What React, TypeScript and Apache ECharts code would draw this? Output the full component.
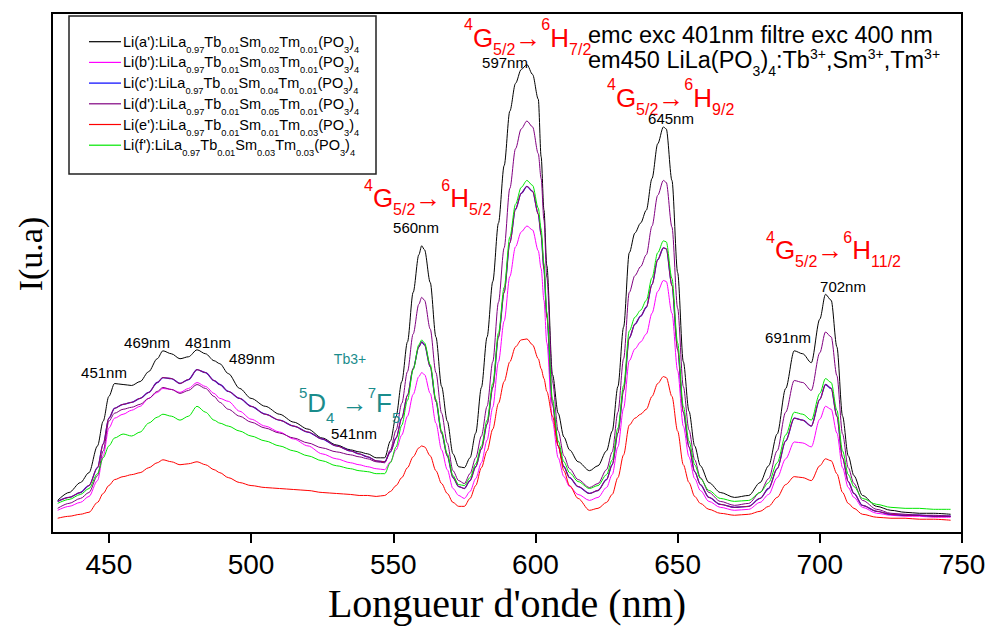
import { useEffect, useRef } from 'react';
import * as echarts from 'echarts';

// ---------- DATA ----------
const wavelengths = [
  432, 436, 440, 443, 446, 448, 450, 452, 455, 458, 461, 464, 467, 469, 472, 475, 478, 481, 484, 487, 489, 492, 496, 500, 505, 510, 515, 520, 525, 530, 535, 538, 541, 544, 547,
  549, 551, 553, 555, 557, 559, 560, 561, 563, 565, 567, 569, 571, 573,
  575, 577, 579, 581, 583, 585, 587, 589, 591, 593, 595, 597, 599, 601, 602, 603, 604, 606, 608, 610, 612, 615, 619,
  622, 625, 627, 629, 631, 633, 635, 637, 639, 641, 643, 645, 646, 648, 650, 652, 654, 656, 658, 661, 665, 670,
  675, 679, 682, 685, 688, 691, 694, 697, 700, 702, 704, 706, 708, 710, 712, 715, 720, 725, 730, 735, 740, 746,
];

const serieA = [
  33, 41, 51, 61, 88, 113, 138, 151, 150, 149, 153, 163, 176, 184, 181, 176, 178, 185, 181, 174, 171, 161, 146, 136, 128, 120, 112, 105, 96, 89, 84, 82, 80, 76, 76,
  93, 118, 153, 193, 243, 281, 290, 286, 253, 198, 148, 113, 80, 67,
  66, 76, 101, 147, 198, 254, 313, 371, 426, 454, 468, 473, 463, 438, 380, 326, 270, 160, 121, 97, 84, 72, 63,
  68, 83, 103, 148, 208, 283, 303, 313, 326, 358, 393, 410, 408, 356, 263, 173, 123, 88, 68, 51, 41, 36,
  38, 51, 68, 100, 146, 184, 181, 172, 216, 241, 235, 188, 118, 78, 58, 38, 27, 23, 21, 20, 20, 19,
];

const serieB = [
  23, 27, 31, 37, 53, 78, 106, 116, 120, 124, 128, 136, 142, 146, 145, 142, 146, 152, 148, 141, 136, 133, 123, 115, 108, 102, 95, 88, 80, 75, 71, 69, 67, 65, 64,
  72, 84, 99, 118, 140, 158, 162, 160, 141, 111, 84, 64, 45, 38,
  35, 42, 55, 71, 94, 127, 173, 214, 259, 289, 304, 310, 306, 285, 267, 235, 192, 113, 76, 57, 47, 39, 33,
  36, 46, 59, 87, 126, 174, 186, 193, 201, 222, 244, 255, 254, 222, 164, 108, 77, 55, 43, 32, 26, 23,
  24, 31, 39, 56, 75, 92, 91, 87, 115, 128, 125, 101, 66, 46, 36, 26, 20, 18, 17, 17, 16, 16,
];

const serieC = [
  32, 36, 41, 48, 66, 90, 116, 126, 130, 132, 136, 142, 152, 157, 156, 151, 155, 165, 162, 154, 150, 143, 136, 128, 120, 114, 108, 102, 95, 88, 83, 80, 77, 73, 72,
  82, 96, 116, 139, 166, 188, 193, 190, 168, 133, 101, 78, 56, 47,
  45, 53, 67, 85, 110, 147, 198, 243, 293, 327, 343, 350, 345, 322, 301, 266, 218, 130, 88, 67, 56, 47, 40,
  43, 54, 69, 101, 144, 197, 211, 219, 228, 251, 276, 288, 287, 250, 185, 122, 87, 62, 49, 36, 29, 26,
  27, 35, 45, 65, 93, 116, 114, 108, 135, 150, 146, 118, 76, 52, 40, 28, 22, 19, 18, 18, 17, 17,
];

const serieD = [
  25, 30, 35, 41, 58, 83, 113, 121, 125, 127, 130, 136, 143, 147, 145, 141, 144, 150, 146, 138, 132, 125, 118, 112, 106, 101, 96, 91, 86, 82, 79, 77, 75, 72, 71,
  84, 104, 131, 163, 201, 231, 238, 235, 206, 162, 121, 91, 63, 53,
  50, 60, 76, 98, 128, 173, 233, 288, 348, 388, 408, 416, 410, 383, 358, 316, 258, 153, 103, 78, 65, 54, 46,
  50, 64, 82, 122, 176, 243, 260, 269, 281, 310, 341, 356, 354, 309, 227, 148, 104, 74, 56, 41, 32, 28,
  30, 41, 55, 83, 122, 154, 152, 144, 182, 203, 198, 159, 100, 66, 50, 33, 24, 20, 19, 18, 18, 17,
];

const serieE = [
  15, 17, 19, 21, 31, 40, 48, 54, 57, 59, 61, 66, 71, 74, 72, 69, 70, 72, 69, 64, 61, 56, 51, 48, 46, 45, 44, 43, 41, 40, 39, 38, 38, 37, 38,
  42, 48, 56, 66, 77, 86, 88, 87, 78, 63, 50, 40, 31, 27,
  27, 35, 48, 66, 83, 105, 131, 153, 173, 188, 195, 196, 190, 176, 166, 156, 143, 118, 88, 63, 48, 35, 23,
  25, 31, 39, 56, 79, 109, 116, 120, 125, 138, 151, 158, 157, 138, 103, 69, 51, 37, 30, 24, 20, 18,
  19, 22, 27, 36, 49, 57, 56, 53, 68, 75, 73, 60, 41, 30, 25, 19, 16, 15, 15, 14, 14, 13,
];

const serieF = [
  30, 34, 39, 45, 60, 76, 88, 96, 100, 98, 102, 111, 117, 120, 118, 114, 118, 128, 122, 114, 111, 108, 103, 98, 93, 88, 83, 78, 73, 68, 65, 63, 62, 60, 60,
  71, 87, 109, 134, 165, 190, 195, 192, 170, 135, 103, 80, 58, 49,
  48, 56, 70, 88, 114, 151, 202, 248, 299, 332, 349, 356, 351, 328, 307, 272, 223, 135, 93, 72, 61, 52, 45,
  48, 59, 74, 106, 149, 204, 218, 225, 235, 258, 283, 295, 294, 257, 192, 128, 93, 69, 55, 43, 35, 32,
  33, 41, 51, 71, 99, 122, 120, 114, 141, 156, 152, 124, 83, 59, 47, 35, 29, 26, 25, 25, 24, 24,
];

const seriesNames = ["Li(a')", "Li(b')", "Li(c')", "Li(d')", "Li(e')", "Li(f')"];
const seriesColors = ['#000000', '#ff00ff', '#0000ff', '#800080', '#ff0000', '#00e600'];
const seriesValues = [serieA, serieB, serieC, serieD, serieE, serieF];

const legendLabels = [
  "Li(a'):LiLa_{0.97}Tb_{0.01}Sm_{0.02}Tm_{0.01}(PO_{3})_{4}",
  "Li(b'):LiLa_{0.97}Tb_{0.01}Sm_{0.03}Tm_{0.01}(PO_{3})_{4}",
  "Li(c'):LiLa_{0.97}Tb_{0.01}Sm_{0.04}Tm_{0.01}(PO_{3})_{4}",
  "Li(d'):LiLa_{0.97}Tb_{0.01}Sm_{0.05}Tm_{0.01}(PO_{3})_{4}",
  "Li(e'):LiLa_{0.97}Tb_{0.01}Sm_{0.01}Tm_{0.03}(PO_{3})_{4}",
  "Li(f'):LiLa_{0.97}Tb_{0.01}Sm_{0.03}Tm_{0.03}(PO_{3})_{4}",
];

const xTicks = [450, 500, 550, 600, 650, 700, 750];

const peakLabels = [
  { t: '451nm', x: 104, y: 372 },
  { t: '469nm', x: 147, y: 342 },
  { t: '481nm', x: 208, y: 342 },
  { t: '489nm', x: 252, y: 358 },
  { t: '541nm', x: 354, y: 433 },
  { t: '560nm', x: 416, y: 227 },
  { t: '597nm', x: 505, y: 62 },
  { t: '645nm', x: 671, y: 118 },
  { t: '691nm', x: 788, y: 337 },
  { t: '702nm', x: 843, y: 286 },
];

const transitions = [
  { t: '^{4}G_{5/2}→^{6}H_{7/2}', x: 464, y: 37.5 },
  { t: '^{4}G_{5/2}→^{6}H_{5/2}', x: 364, y: 198 },
  { t: '^{4}G_{5/2}→^{6}H_{9/2}', x: 607, y: 97.5 },
  { t: '^{4}G_{5/2}→^{6}H_{11/2}', x: 766, y: 250 },
];

const SANS = '"Liberation Sans", Arial, sans-serif';
const SERIF = '"Liberation Serif", "Times New Roman", serif';

let measureCtx: CanvasRenderingContext2D | null = null;
function textWidth(t: string, size: number, family: string) {
  if (!measureCtx) measureCtx = document.createElement('canvas').getContext('2d');
  measureCtx!.font = `${size}px ${family}`;
  return measureCtx!.measureText(t).width;
}

function formula(
  str: string,
  x: number,
  yc: number,
  o: { M: number; S: number; supDy: number; subDy: number; color: string; family?: string; z?: number }
) {
  const family = o.family || SANS;
  const z = o.z ?? 20;
  const parts = str.split(/(_\{[^}]*\}|\^\{[^}]*\})/).filter((p) => p.length > 0);
  const children: any[] = [];
  let cx = x;
  for (const p of parts) {
    let kind = 'n';
    let t = p;
    if (p.startsWith('_{')) { kind = 'sub'; t = p.slice(2, -1); }
    else if (p.startsWith('^{')) { kind = 'sup'; t = p.slice(2, -1); }
    const size = kind === 'n' ? o.M : o.S;
    const dy = kind === 'sup' ? o.supDy : kind === 'sub' ? o.subDy : 0;
    children.push({
      type: 'text',
      x: cx,
      y: yc + dy,
      z,
      style: { text: t, fontSize: size, fontFamily: family, fill: o.color, align: 'left', verticalAlign: 'middle' },
    });
    cx += textWidth(t, size, family);
  }
  return { type: 'group', z, children };
}

export default function App() {
  const ref = useRef<HTMLDivElement>(null);

  useEffect(() => {
    if (!ref.current) return;
    const chart = echarts.init(ref.current, null, { renderer: 'svg' });

    const zOrder = [2, 3, 4, 6, 7, 8];
    const series: any[] = seriesValues.map((vals, i) => ({
      name: seriesNames[i],
      type: 'line',
      data: wavelengths.map((w, j) => [w, vals[j]]),
      showSymbol: false,
      smooth: 0.3,
      smoothMonotone: 'x',
      lineStyle: { color: seriesColors[i], width: i === 2 ? 1.3 : 1 },
      itemStyle: { color: seriesColors[i] },
      z: zOrder[i],
    }));
    // second trace recorded with c' (drawn over it in crimson in the original)
    series.push({
      name: "Li(c') bis",
      type: 'line',
      data: wavelengths.map((w, j) => [w, serieC[j]]),
      showSymbol: false,
      smooth: 0.3,
      smoothMonotone: 'x',
      lineStyle: { color: '#c0103a', width: 0.9 },
      z: 5,
    });

    const graphics: any[] = [];
    // legend box
    graphics.push({
      type: 'rect',
      shape: { x: 69, y: 16, width: 307, height: 158 },
      style: { fill: '#fff', stroke: '#222', lineWidth: 1.5 },
      z: 10,
    });
    legendLabels.forEach((lab, i) => {
      const y = 41.7 + i * 20.7;
      graphics.push({
        type: 'line',
        shape: { x1: 89, y1: y, x2: 121, y2: y },
        style: { stroke: seriesColors[i], lineWidth: 1.2 },
        z: 11,
      });
      graphics.push(formula(lab, 123, y, { M: 14.5, S: 9.3, supDy: -6, subDy: 8, color: '#000', z: 12 }));
    });

    // header text
    graphics.push({
      type: 'text',
      x: 588,
      y: 34.5,
      z: 20,
      style: { text: 'emc exc 401nm filtre exc 400 nm', fontSize: 23.5, fontFamily: SANS, fill: '#000', align: 'left', verticalAlign: 'middle' },
    });
    graphics.push(
      formula('em450 LiLa(PO_{3})_{4}:Tb^{3+},Sm^{3+},Tm^{3+}', 588, 60, { M: 23.5, S: 14, supDy: -6, subDy: 10.5, color: '#000' })
    );

    transitions.forEach((tr) => {
      graphics.push(formula(tr.t, tr.x, tr.y, { M: 26, S: 16, supDy: -13, subDy: 11.5, color: '#ff0000' }));
    });

    graphics.push(formula('^{5}D_{4} →^{7}F_{5}', 299, 402.5, { M: 26, S: 15, supDy: -10, subDy: 15, color: '#1a8c8c' }));
    graphics.push({
      type: 'text',
      x: 350,
      y: 359,
      z: 20,
      style: { text: 'Tb3+', fontSize: 14, fontFamily: SANS, fill: '#1a8c8c', align: 'center', verticalAlign: 'middle' },
    });

    peakLabels.forEach((p) => {
      graphics.push({
        type: 'text',
        x: p.x,
        y: p.y,
        z: 20,
        style: { text: p.t, fontSize: 15, fontFamily: SANS, fill: '#000', align: 'center', verticalAlign: 'middle' },
      });
    });

    graphics.push({
      type: 'text',
      x: 30,
      y: 254,
      rotation: Math.PI / 2,
      z: 20,
      style: { text: 'I(u.a)', fontSize: 34, fontFamily: SERIF, fill: '#000', align: 'center', verticalAlign: 'middle' },
    });

    chart.setOption({
      animation: false,
      backgroundColor: '#fff',
      grid: { left: 52, right: 34, top: 13, bottom: 90, show: true, borderColor: '#000', borderWidth: 2 },
      xAxis: {
        type: 'value',
        min: 430,
        max: 750,
        name: "Longueur d'onde (nm)",
        nameLocation: 'middle',
        nameGap: 49,
        nameTextStyle: { fontFamily: SERIF, fontSize: 40, color: '#000' },
        axisLine: { show: true, lineStyle: { color: '#000', width: 2 } },
        axisTick: { show: true, inside: false, length: 10, customValues: xTicks, lineStyle: { color: '#000', width: 2 } },
        axisLabel: {
          customValues: xTicks,
          margin: 17,
          fontFamily: SANS,
          fontSize: 28,
          color: '#000',
        },
        splitLine: { show: false },
      },
      yAxis: {
        type: 'value',
        min: 0,
        max: 525,
        axisLine: { show: true, lineStyle: { color: '#000', width: 2 } },
        axisTick: { show: false },
        axisLabel: { show: false },
        splitLine: { show: false },
      },
      series,
      graphic: graphics,
    });

    return () => chart.dispose();
  }, []);

  return <div ref={ref} style={{ position: 'fixed', left: 0, top: 0, width: 996, height: 628 }} />;
}
